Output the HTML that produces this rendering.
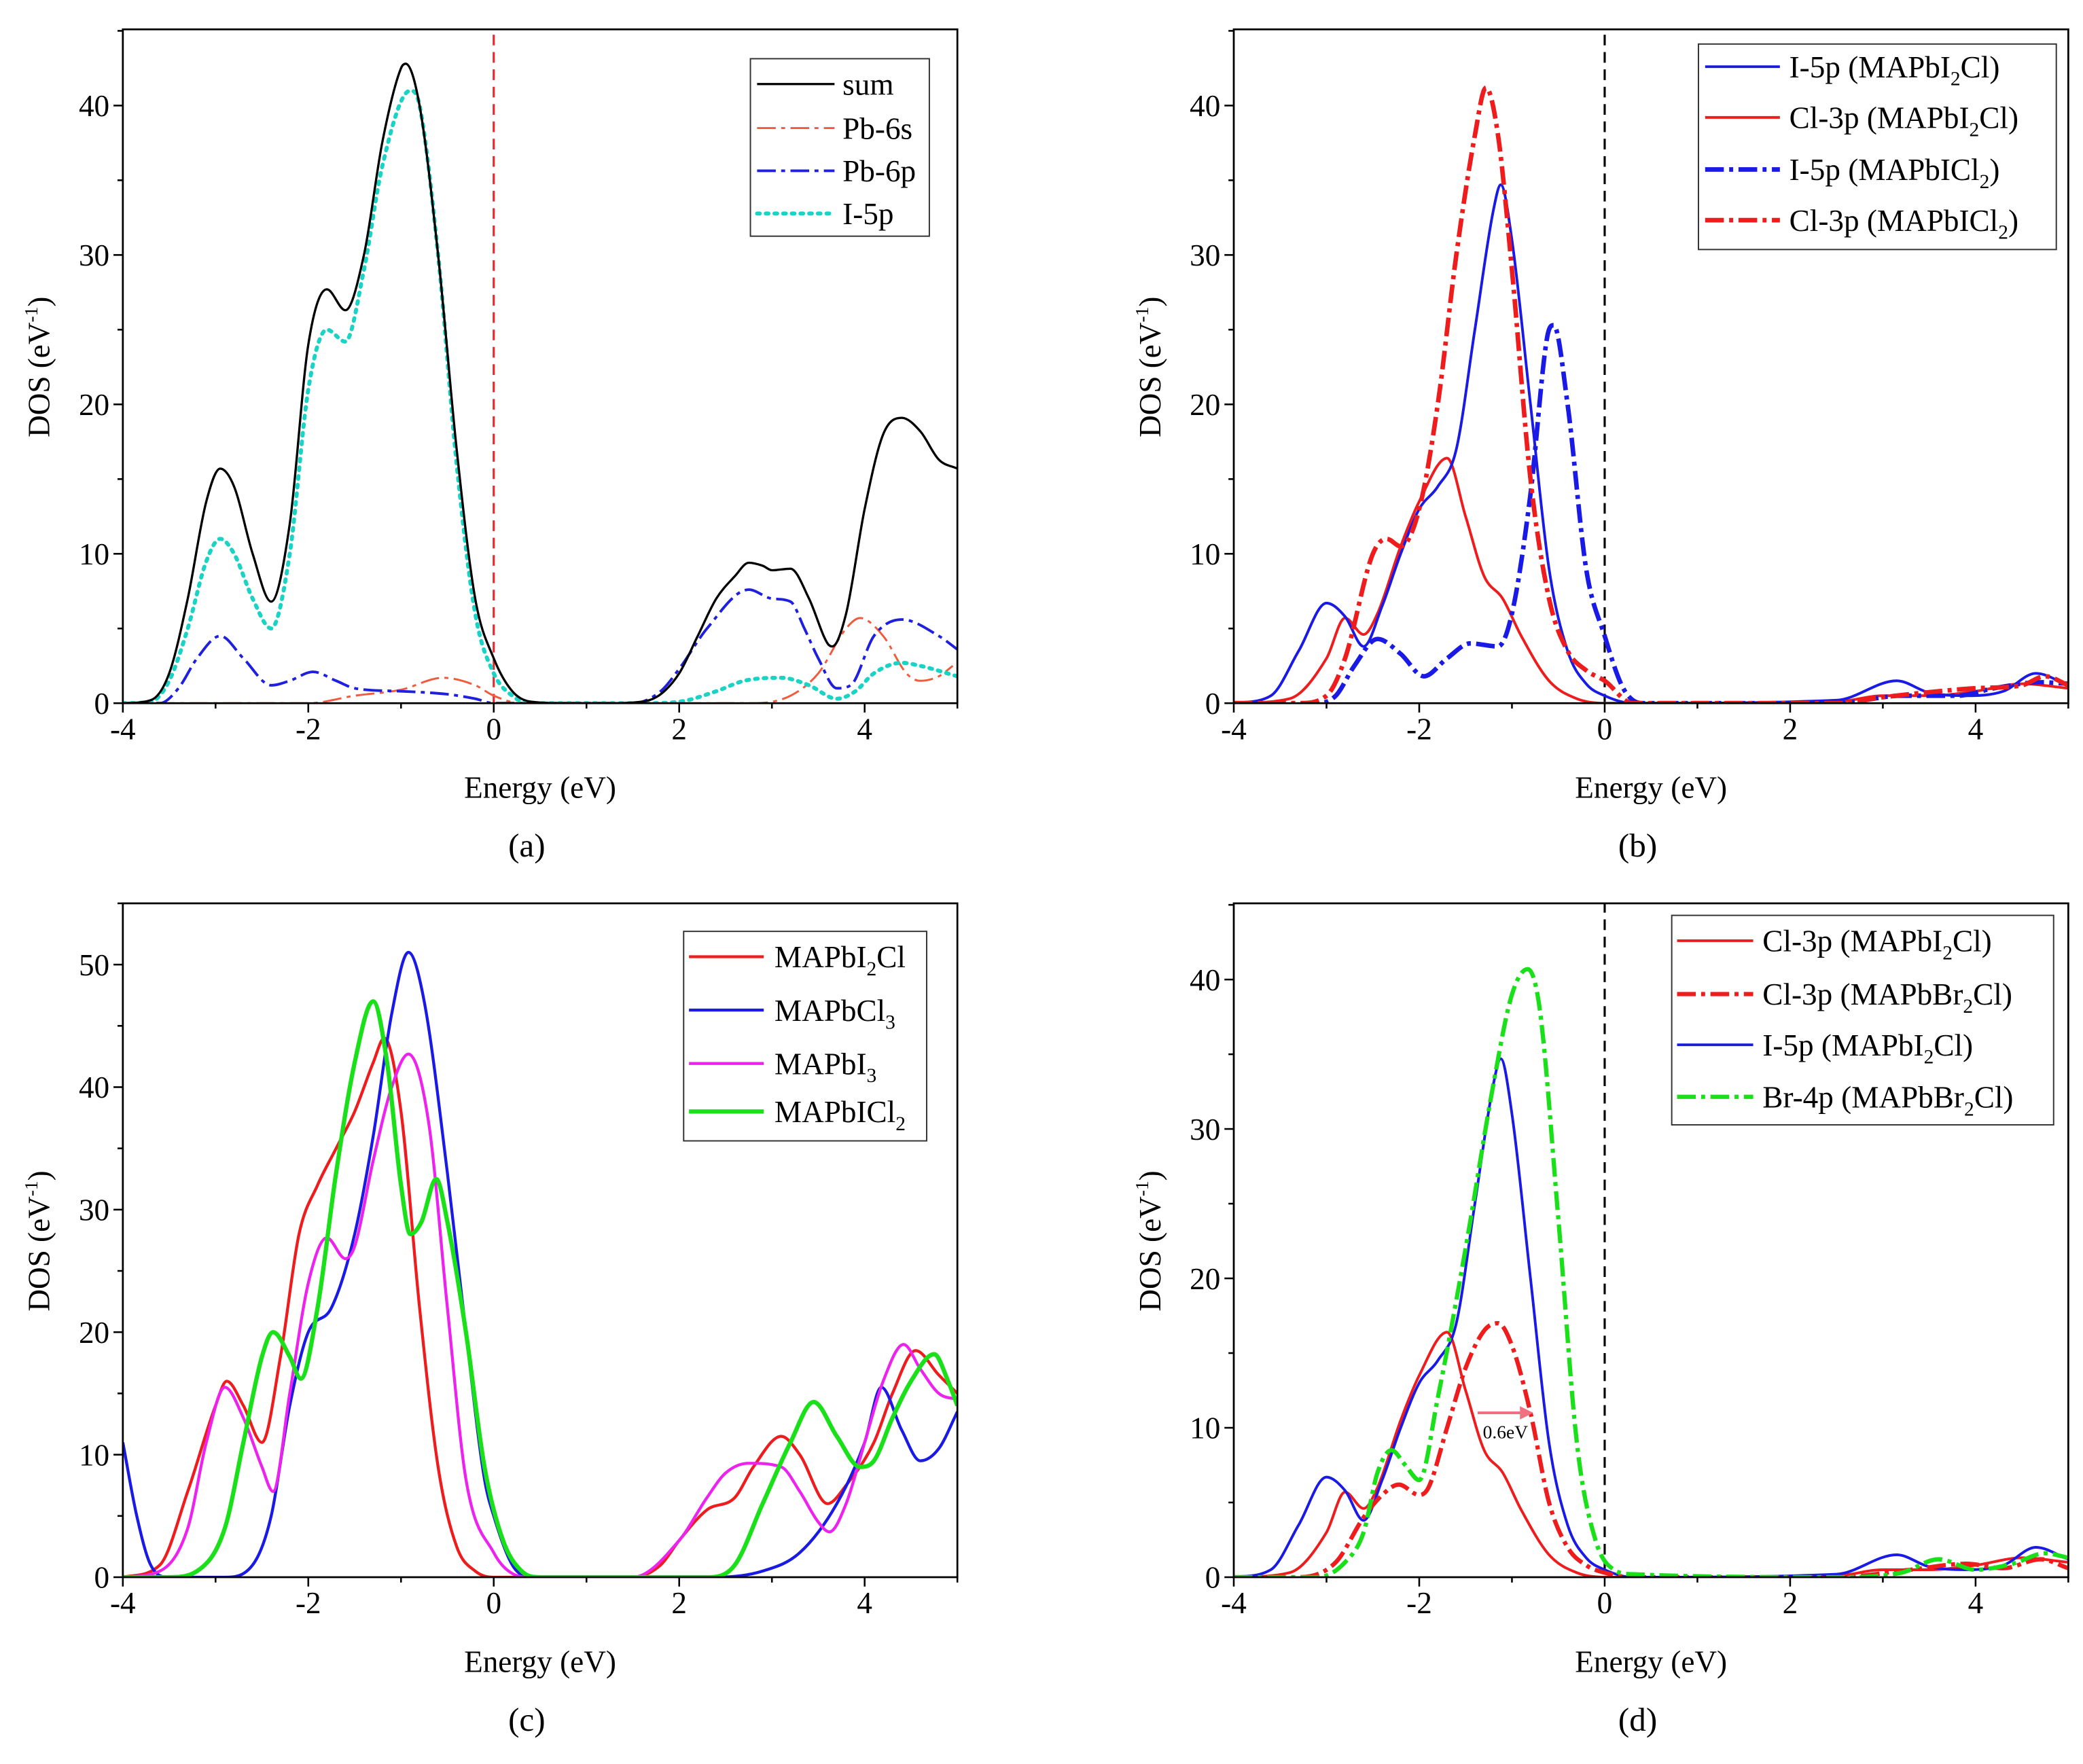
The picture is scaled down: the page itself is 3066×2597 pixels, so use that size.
<!DOCTYPE html>
<html><head><meta charset="utf-8"><style>
html,body{margin:0;padding:0;background:#fff;overflow:hidden;width:3066px;height:2597px}
svg{display:block;font-family:"Liberation Serif","DejaVu Serif",serif}
text{font-family:"Liberation Serif","DejaVu Serif",serif}
</style></head><body>
<svg id="fig" width="3066" height="2597" viewBox="0 0 1560 1322" preserveAspectRatio="none" font-family="Liberation Serif, serif" xmlns="http://www.w3.org/2000/svg"></svg>
<script>
// ---------- data ----------
const xTicks=[-4,-2,0,2,4];
const xTickLabels=["-4","-2","0","2","4"];
const yTicksAB=[0,10,20,30,40];
const yTicksC=[0,10,20,30,40,50];
// panel a
const aSumX=[-4,-3.7,-3.5,-3.3,-3.1,-2.95,-2.8,-2.6,-2.4,-2.2,-2.0,-1.8,-1.6,-1.4,-1.2,-1.0,-0.95,-0.8,-0.6,-0.4,-0.2,0,0.2,0.4,0.8,1.2,1.6,1.8,2.0,2.2,2.4,2.6,2.75,2.9,3.0,3.2,3.4,3.6,3.65,3.8,4.0,4.2,4.4,4.6,4.8,5.0];
const aSumY=[0,0.2,2,7,13.5,15.7,14.5,10,6.8,12,24,27.7,26.3,30,37.6,42.5,42.8,40,30,17,7,3,0.8,0.1,0,0,0.1,0.6,2,4.5,7,8.5,9.4,9.2,8.9,9,7,4,3.8,6,13,18,19.1,18.2,16.3,15.7];
const aIX=[-4,-3.7,-3.5,-3.3,-3.1,-2.95,-2.8,-2.6,-2.4,-2.2,-2.0,-1.8,-1.6,-1.4,-1.2,-0.9,-0.8,-0.6,-0.4,-0.2,0,0.2,0.4,1.6,2.0,2.4,2.7,3.1,3.4,3.7,3.9,4.1,4.4,4.6,5.0];
const aIY=[0,0.1,1.5,5,9.5,11,10,7,5,10,21,25,24.2,29,36,41,40,30,16,6,2,0.5,0,0,0.1,0.8,1.5,1.7,1.2,0.3,0.8,2,2.7,2.5,1.8];
const aPbpX=[-4,-3.6,-3.4,-3.2,-2.95,-2.7,-2.4,-2.2,-1.95,-1.7,-1.5,-1.0,-0.5,-0.2,0,1.5,1.8,2.0,2.3,2.75,3.0,3.2,3.35,3.5,3.7,3.85,4.1,4.4,4.8,5.0];
const aPbpY=[0,0,1,3,4.5,3,1.2,1.5,2.1,1.5,1.0,0.8,0.6,0.3,0,0,0.8,2.3,5,7.6,7,6.8,5,3,1,1.2,4.5,5.6,4.5,3.6];
const aPbsX=[-4,-2.0,-1.5,-1.0,-0.55,-0.2,0,0.3,2.8,3.2,3.5,3.8,3.95,4.2,4.45,4.6,4.8,4.95];
const aPbsY=[0,0,0.5,0.9,1.7,1.2,0.5,0,0,0.5,2,5,5.7,4.5,2,1.5,1.8,2.5];
// panel b / d shared
const bI1X=[-4,-3.6,-3.3,-3.0,-2.8,-2.6,-2.4,-2.2,-2.0,-1.8,-1.6,-1.4,-1.2,-1.12,-1.0,-0.8,-0.6,-0.4,-0.2,0,0.3,2.5,3.15,3.5,3.9,4.3,4.65,5];
const bI1Y=[0,0.5,3.5,6.7,5.8,3.8,6.5,10,13,14.5,17,25,33,34.7,31,20,9,3.5,1.3,0.5,0,0.2,1.5,0.7,0.5,0.8,2,1.2];
const bCl1X=[-4,-3.4,-3.0,-2.8,-2.6,-2.45,-2.2,-2.0,-1.7,-1.5,-1.3,-1.1,-0.9,-0.6,-0.3,0,2.5,3,3.5,4,4.5,5];
const bCl1Y=[0,0.3,3,5.7,4.6,6,10.5,13.5,16.4,12.5,8.5,7,4.5,1.5,0.3,0,0.1,0.5,0.5,0.8,1.3,1];
const bI2X=[-4,-3.1,-2.9,-2.7,-2.45,-2.2,-1.95,-1.7,-1.45,-1.15,-1.0,-0.8,-0.62,-0.55,-0.4,-0.2,0,0.2,0.4,2.5,3.2,3.8,4.2,4.7,5];
const bI2Y=[0,0,0.5,2.5,4.3,3.3,1.8,3,4,3.8,6,14,24.5,25.3,20,9,4.5,1,0,0,0.5,0.5,1,1.4,1.3];
const bCl2X=[-4,-3.3,-3.0,-2.8,-2.5,-2.35,-2.2,-2.0,-1.8,-1.6,-1.4,-1.28,-1.15,-1.0,-0.8,-0.6,-0.4,-0.2,0,0.3,2.5,3,3.6,4.0,4.5,4.75,5];
const bCl2Y=[0,0,0.5,3,10,11,10.5,13,20,30,38,41.2,38,29,15,7,3.5,2.2,1.5,0,0,0.4,0.8,1.0,1.2,1.8,1.2];
// panel c
const cRX=[-4,-3.6,-3.3,-3.0,-2.88,-2.7,-2.5,-2.3,-2.1,-1.9,-1.7,-1.5,-1.3,-1.18,-1.0,-0.8,-0.6,-0.4,-0.2,0,1.5,1.8,2.0,2.3,2.6,2.8,3.1,3.3,3.6,3.8,4.1,4.3,4.55,4.8,5];
const cRY=[0,1,7,14,16,14,11,18,28,32,35,38,42,44,38,22,9,2.5,0.5,0,0,1,3,5.5,6.5,9,11.5,10,6,7.5,11,15,18.5,16.5,15];
const cBX=[-4,-3.85,-3.7,-3.5,-2.9,-2.6,-2.4,-2.2,-2.0,-1.75,-1.5,-1.3,-1.1,-0.92,-0.75,-0.5,-0.3,-0.1,0,0.2,0.4,2.4,2.9,3.3,3.7,4.0,4.18,4.4,4.6,4.8,5];
const cBY=[11,5,1,0,0,1,5,14,20,22,28,36,46,51,47,33,20,8,5,1,0,0,0.5,2,6,11,15.5,12,9.5,10.5,13.5];
const cMX=[-4,-3.6,-3.3,-3.1,-2.9,-2.7,-2.5,-2.38,-2.2,-2.0,-1.8,-1.6,-1.5,-1.3,-1.1,-0.92,-0.7,-0.5,-0.3,0,0.2,0.4,1.5,2.0,2.3,2.5,2.75,3.1,3.3,3.5,3.62,3.8,4.0,4.2,4.42,4.6,4.8,5];
const cMY=[0,0.5,4,11,15.5,13,9,7,15,24,27.7,26,27,34,40,42.7,37,22,8,2,0.3,0,0,3,6.5,8.5,9.3,9,7,4.5,3.7,6,11,16,19,17,15,14.5];
const cGX=[-4,-3.5,-3.2,-2.9,-2.7,-2.5,-2.38,-2.2,-2.08,-1.9,-1.7,-1.5,-1.3,-1.15,-1.0,-0.9,-0.78,-0.62,-0.5,-0.3,-0.1,0.1,0.3,0.5,2.3,2.6,2.9,3.2,3.45,3.7,3.95,4.1,4.3,4.5,4.75,4.9,5];
const cGY=[0,0,0.5,4,11,18,20,18,16.2,22,33,42,47,42,32,28,29,32.5,29,20,9,3,0.5,0,0,1,6,11,14.3,11.5,9,9.5,13,16,18.2,16,14];
// panel d
const dClBX=[-4,-3.3,-2.9,-2.6,-2.4,-2.22,-2.0,-1.9,-1.7,-1.5,-1.3,-1.15,-1.0,-0.8,-0.6,-0.4,-0.2,0,0.3,2.5,3.3,3.9,4.3,4.7,5];
const dClBY=[0,0,1,4,5.5,6.2,5.5,6,10,14,16.5,17,15.5,11,5,2,0.8,0.3,0,0,0.5,0.9,0.6,1.2,0.6];
const dBrX=[-4,-3.1,-2.8,-2.6,-2.45,-2.3,-2.15,-2.0,-1.8,-1.5,-1.2,-1.0,-0.83,-0.7,-0.5,-0.3,-0.1,0.1,0.3,2.5,3.2,3.6,4.0,4.4,4.75,5];
const dBrY=[0,0,1,3,7,8.5,7.5,6.5,12,22,33,39,40.7,38,24,9,2.5,0.5,0.2,0,0.3,1.2,0.5,0.9,1.6,1.3];
const arrowFrom=-1.37, arrowTo=-0.77, arrowLevel=11;

// ---------- drawing ----------
const NS="http://www.w3.org/2000/svg";
const svg=document.getElementById('fig');
function mk(tag,attrs,parent){const e=document.createElementNS(NS,tag);for(const k in attrs)e.setAttribute(k,attrs[k]);(parent||svg).appendChild(e);return e;}
function monoPath(xs,ys,sx,sy){
  const n=xs.length,X=xs.map(sx),Y=ys.map(sy);
  const d=[],m=[];
  for(let i=0;i<n-1;i++)d.push((ys[i+1]-ys[i])/(xs[i+1]-xs[i]));
  m[0]=d[0];m[n-1]=d[n-2];
  for(let i=1;i<n-1;i++){m[i]=(d[i-1]*d[i]<=0)?0:(d[i-1]+d[i])/2;}
  for(let i=0;i<n-1;i++){if(d[i]===0){m[i]=0;m[i+1]=0;continue;}const a=m[i]/d[i],b=m[i+1]/d[i],s=a*a+b*b;if(s>9){const t=3/Math.sqrt(s);m[i]=t*a*d[i];m[i+1]=t*b*d[i];}}
  let p="M"+X[0].toFixed(2)+","+Y[0].toFixed(2);
  for(let i=0;i<n-1;i++){const h=xs[i+1]-xs[i];
    const c1x=sx(xs[i]+h/3),c1y=sy(ys[i]+m[i]*h/3),c2x=sx(xs[i+1]-h/3),c2y=sy(ys[i+1]-m[i+1]*h/3);
    p+=" C"+c1x.toFixed(2)+","+c1y.toFixed(2)+" "+c2x.toFixed(2)+","+c2y.toFixed(2)+" "+X[i+1].toFixed(2)+","+Y[i+1].toFixed(2);}
  return p;
}
function panel(id,L,T,R,B,ymax,yticks,label,ytitleY){
  const g=mk('g',{});
  
  
  const sx=v=>L+(v+4)/9*(R-L), sy=v=>B-v/ymax*(B-T);
  const cid='clip'+id;
  const cp=mk('clipPath',{id:cid},g);mk('rect',{x:L,y:T,width:R-L,height:B-T},cp);
  const plot=mk('g',{'clip-path':'url(#'+cid+')'},g);
  
  
  const fr=mk('rect',{x:L,y:T,width:R-L,height:B-T,fill:'none',stroke:'#000','stroke-width':1.4},g);
  
  
  for(let v=-4;v<=5;v++){const major=(v%2===0);mk('line',{x1:sx(v),x2:sx(v),y1:B,y2:B+(major?7:4),stroke:'#000','stroke-width':1.3},g);}
  xTicks.forEach((v,i)=>{const t=mk('text',{x:sx(v),y:B+27,'font-size':23,'text-anchor':'middle'},g);t.textContent=xTickLabels[i];
    
    });
  for(let v=0;v<=ymax;v+=5){const major=(v%10===0);mk('line',{x1:L,x2:L-(major?7:4),y1:sy(v),y2:sy(v),stroke:'#000','stroke-width':1.3},g);}
  yticks.forEach(v=>{const t=mk('text',{x:L-10,y:sy(v)+8,'font-size':23,'text-anchor':'end'},g);t.textContent=String(v);
    
    });
  const xt=mk('text',{x:(L+R)/2,y:B+71,'font-size':23,'text-anchor':'middle'},g);xt.textContent='Energy (eV)';
  
  
  const yt=mk('text',{x:0,y:0,'font-size':23,'text-anchor':'middle',transform:'translate('+(L-55)+','+ytitleY+') rotate(-90)'},g);
  yt.innerHTML='DOS (eV<tspan dy="-9" font-size="14">-1</tspan><tspan dy="9">)</tspan>';
  
  
  const pl=mk('text',{x:(L+R)/2-10,y:B+115,'font-size':25,'text-anchor':'middle'},g);pl.textContent=label;
  
  
  return {sx,sy,plot,g};
}
function series(P,xs,ys,color,w,dash,name){
  const p=mk('path',{d:monoPath(xs,ys,P.sx,P.sy),fill:'none',stroke:color,'stroke-width':w,'stroke-dasharray':dash||'none','stroke-linecap':dash&&dash.startsWith('2 ')?'round':'butt'},P.plot);
  
  
}
function vline(P,color){const l=mk('line',{x1:P.sx(0),x2:P.sx(0),y1:0,y2:1400,stroke:color,'stroke-width':1.6,'stroke-dasharray':'8 5'},P.plot);
  
  }
function legend(bx,by,bw,bh,ys,lx1,lx2,tx,items){
  const g=mk('g',{});
  
  
  mk('rect',{x:bx,y:by,width:bw,height:bh,fill:'#fff',stroke:'#333','stroke-width':1},g);
  items.forEach((it,i)=>{
    const e=mk('g',{},g);
    
    
    mk('line',{x1:lx1,x2:lx2,y1:ys[i],y2:ys[i],stroke:it.c,'stroke-width':it.w,'stroke-dasharray':it.d||'none','stroke-linecap':it.d&&it.d.startsWith('2 ')?'round':'butt'},e);
    const t=mk('text',{x:tx,y:ys[i]+8,'font-size':23},e);t.innerHTML=it.t;
  });
}
const sub=s=>'<tspan dy="6" font-size="15">'+s+'</tspan><tspan dy="-6">';
const DD='14 4 3 4', DOT='2 4.5';

const A=panel('a',92,22,717,527,45.1,yTicksAB,'(a)',275);
vline(A,'#e8262b');
series(A,aPbsX,aPbsY,'#f15a3a',1.5,DD,'pb-6s-line');
series(A,aPbpX,aPbpY,'#1f1fe0',2,DD,'pb-6p-line');
series(A,aIX,aIY,'#19d3c5',3,DOT,'i-5p-line');
series(A,aSumX,aSumY,'#000',1.7,null,'sum-line');
legend(562,44,134,133,[63,96,128,160],567,625,631,[
 {c:'#000',w:1.7,t:'sum'},{c:'#f15a3a',w:1.5,d:DD,t:'Pb-6s'},{c:'#1f1fe0',w:2,d:DD,t:'Pb-6p'},{c:'#19d3c5',w:3,d:DOT,t:'I-5p'}]);

const Bp=panel('b',924,22,1549,527,45.1,yTicksAB,'(b)',275);
vline(Bp,'#000');
series(Bp,bCl1X,bCl1Y,'#ee1c1c',2,null,'cl-3p-mapbi2cl-line');
series(Bp,bI1X,bI1Y,'#1a1ae6',2,null,'i-5p-mapbi2cl-line');
series(Bp,bI2X,bI2Y,'#1a1ae6',3.4,DD,'i-5p-mapbicl2-line');
series(Bp,bCl2X,bCl2Y,'#ee1c1c',3.4,DD,'cl-3p-mapbicl2-line');
legend(1272,33,268,154,[50,88,127,165],1277,1333,1340,[
 {c:'#1a1ae6',w:2,t:'I-5p (MAPbI'+sub('2')+'Cl)</tspan>'},
 {c:'#ee1c1c',w:2,t:'Cl-3p (MAPbI'+sub('2')+'Cl)</tspan>'},
 {c:'#1a1ae6',w:3.4,d:DD,t:'I-5p (MAPbICl'+sub('2')+')</tspan>'},
 {c:'#ee1c1c',w:3.4,d:DD,t:'Cl-3p (MAPbICl'+sub('2')+')</tspan>'}]);

const C=panel('c',92,677,717,1182,55,yTicksC,'(c)',930);
series(C,cRX,cRY,'#ee1c1c',2.2,null,'mapbi2cl-line');
series(C,cBX,cBY,'#1a1ae6',2.2,null,'mapbcl3-line');
series(C,cMX,cMY,'#ee22ee',2.2,null,'mapbi3-line');
series(C,cGX,cGY,'#19e019',3.2,null,'mapbicl2-line');
legend(512,698,182,157,[717,757,797,833],516,572,580,[
 {c:'#ee1c1c',w:2.2,t:'MAPbI'+sub('2')+'Cl</tspan>'},
 {c:'#1a1ae6',w:2.2,t:'MAPbCl'+sub('3')+'</tspan>'},
 {c:'#ee22ee',w:2.2,t:'MAPbI'+sub('3')+'</tspan>'},
 {c:'#19e019',w:3.2,t:'MAPbICl'+sub('2')+'</tspan>'}]);

const D=panel('d',924,677,1549,1182,45.1,yTicksAB,'(d)',930);
vline(D,'#000');
series(D,bCl1X,bCl1Y,'#ee1c1c',2,null,'cl-3p-mapbi2cl-line');
series(D,bI1X,bI1Y,'#1a1ae6',2,null,'i-5p-mapbi2cl-line');
series(D,dClBX,dClBY,'#ee1c1c',3.2,DD,'cl-3p-mapbbr2cl-line');
series(D,dBrX,dBrY,'#19e019',3.2,DD,'br-4p-mapbbr2cl-line');
const ar=mk('g',{});


mk('line',{x1:D.sx(arrowFrom),x2:D.sx(arrowTo)-8,y1:D.sy(arrowLevel),y2:D.sy(arrowLevel),stroke:'#f07080','stroke-width':2},ar);
mk('polygon',{points:(D.sx(arrowTo))+','+D.sy(arrowLevel)+' '+(D.sx(arrowTo)-10)+','+(D.sy(arrowLevel)-5)+' '+(D.sx(arrowTo)-10)+','+(D.sy(arrowLevel)+5),fill:'#f07080'},ar);
const at=mk('text',{x:D.sx((arrowFrom+arrowTo)/2),y:D.sy(arrowLevel)+19,'font-size':14,'text-anchor':'middle'},ar);at.textContent='0.6eV';
legend(1252,686,286,157,[705,745,783,822],1256,1313,1320,[
 {c:'#ee1c1c',w:2,t:'Cl-3p (MAPbI'+sub('2')+'Cl)</tspan>'},
 {c:'#ee1c1c',w:3.2,d:DD,t:'Cl-3p (MAPbBr'+sub('2')+'Cl)</tspan>'},
 {c:'#1a1ae6',w:2,t:'I-5p (MAPbI'+sub('2')+'Cl)</tspan>'},
 {c:'#19e019',w:3.2,d:DD,t:'Br-4p (MAPbBr'+sub('2')+'Cl)</tspan>'}]);
</script>
</body></html>
